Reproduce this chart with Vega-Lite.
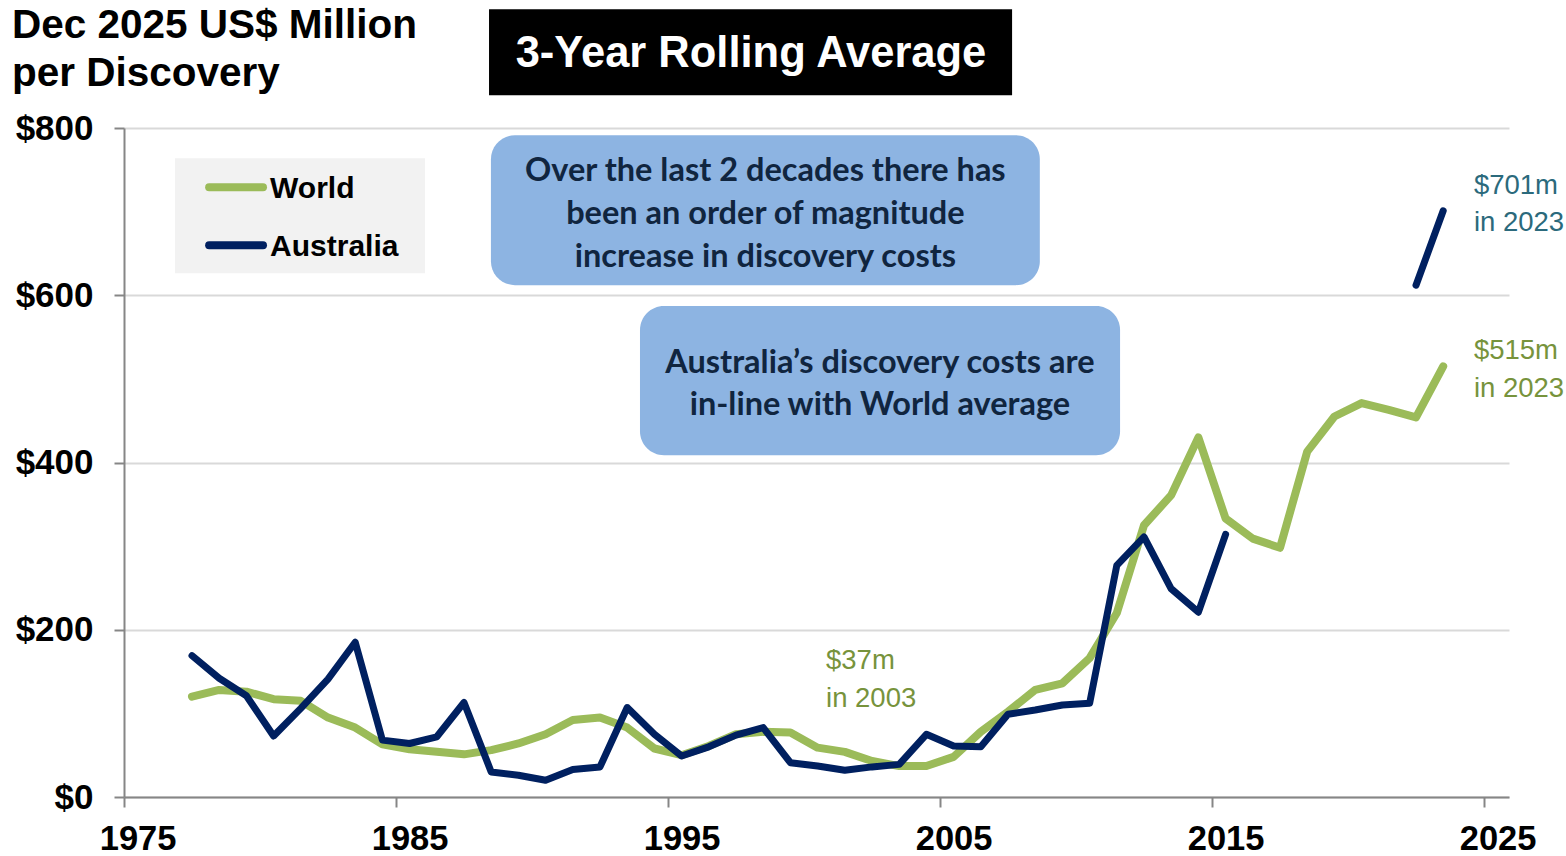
{
  "$schema": "https://vega.github.io/schema/vega-lite/v6.json",
  "width": 1385,
  "height": 669,
  "autosize": {"type": "none"},
  "padding": {"left": 124, "top": 128, "right": 57, "bottom": 59},
  "background": "white",
  "config": {"view": {"stroke": null}},
  "data": {
    "values": [
      {"year": 1977, "series": "World", "cost": 120}, {"year": 1978, "series": "World", "cost": 128}, {"year": 1979, "series": "World", "cost": 126}, {"year": 1980, "series": "World", "cost": 117}, {"year": 1981, "series": "World", "cost": 115}, {"year": 1982, "series": "World", "cost": 95}, {"year": 1983, "series": "World", "cost": 83}, {"year": 1984, "series": "World", "cost": 63}, {"year": 1985, "series": "World", "cost": 57}, {"year": 1986, "series": "World", "cost": 54}, {"year": 1987, "series": "World", "cost": 51}, {"year": 1988, "series": "World", "cost": 56}, {"year": 1989, "series": "World", "cost": 64}, {"year": 1990, "series": "World", "cost": 75}, {"year": 1991, "series": "World", "cost": 92}, {"year": 1992, "series": "World", "cost": 95}, {"year": 1993, "series": "World", "cost": 83}, {"year": 1994, "series": "World", "cost": 58}, {"year": 1995, "series": "World", "cost": 50}, {"year": 1996, "series": "World", "cost": 61}, {"year": 1997, "series": "World", "cost": 75}, {"year": 1998, "series": "World", "cost": 78}, {"year": 1999, "series": "World", "cost": 77}, {"year": 2000, "series": "World", "cost": 59}, {"year": 2001, "series": "World", "cost": 54}, {"year": 2002, "series": "World", "cost": 43}, {"year": 2003, "series": "World", "cost": 37}, {"year": 2004, "series": "World", "cost": 37}, {"year": 2005, "series": "World", "cost": 48}, {"year": 2006, "series": "World", "cost": 78}, {"year": 2007, "series": "World", "cost": 102}, {"year": 2008, "series": "World", "cost": 128}, {"year": 2009, "series": "World", "cost": 136}, {"year": 2010, "series": "World", "cost": 166}, {"year": 2011, "series": "World", "cost": 220}, {"year": 2012, "series": "World", "cost": 325}, {"year": 2013, "series": "World", "cost": 361}, {"year": 2014, "series": "World", "cost": 430}, {"year": 2015, "series": "World", "cost": 333}, {"year": 2016, "series": "World", "cost": 309}, {"year": 2017, "series": "World", "cost": 298}, {"year": 2018, "series": "World", "cost": 413}, {"year": 2019, "series": "World", "cost": 455}, {"year": 2020, "series": "World", "cost": 471}, {"year": 2021, "series": "World", "cost": 463}, {"year": 2022, "series": "World", "cost": 454}, {"year": 2023, "series": "World", "cost": 515},
      {"year": 1977, "series": "Australia", "cost": 169}, {"year": 1978, "series": "Australia", "cost": 142}, {"year": 1979, "series": "Australia", "cost": 121}, {"year": 1980, "series": "Australia", "cost": 73}, {"year": 1981, "series": "Australia", "cost": 106}, {"year": 1982, "series": "Australia", "cost": 141}, {"year": 1983, "series": "Australia", "cost": 185}, {"year": 1984, "series": "Australia", "cost": 68}, {"year": 1985, "series": "Australia", "cost": 64}, {"year": 1986, "series": "Australia", "cost": 72}, {"year": 1987, "series": "Australia", "cost": 113}, {"year": 1988, "series": "Australia", "cost": 30}, {"year": 1989, "series": "Australia", "cost": 26}, {"year": 1990, "series": "Australia", "cost": 20}, {"year": 1991, "series": "Australia", "cost": 33}, {"year": 1992, "series": "Australia", "cost": 36}, {"year": 1993, "series": "Australia", "cost": 107}, {"year": 1994, "series": "Australia", "cost": 75}, {"year": 1995, "series": "Australia", "cost": 49}, {"year": 1996, "series": "Australia", "cost": 60}, {"year": 1997, "series": "Australia", "cost": 74}, {"year": 1998, "series": "Australia", "cost": 83}, {"year": 1999, "series": "Australia", "cost": 41}, {"year": 2000, "series": "Australia", "cost": 37}, {"year": 2001, "series": "Australia", "cost": 32}, {"year": 2002, "series": "Australia", "cost": 36}, {"year": 2003, "series": "Australia", "cost": 39}, {"year": 2004, "series": "Australia", "cost": 75}, {"year": 2005, "series": "Australia", "cost": 61}, {"year": 2006, "series": "Australia", "cost": 60}, {"year": 2007, "series": "Australia", "cost": 99}, {"year": 2008, "series": "Australia", "cost": 104}, {"year": 2009, "series": "Australia", "cost": 110}, {"year": 2010, "series": "Australia", "cost": 112}, {"year": 2011, "series": "Australia", "cost": 277}, {"year": 2012, "series": "Australia", "cost": 311}, {"year": 2013, "series": "Australia", "cost": 249}, {"year": 2014, "series": "Australia", "cost": 221}, {"year": 2015, "series": "Australia", "cost": 314}, {"year": 2016, "series": "Australia", "cost": null}, {"year": 2017, "series": "Australia", "cost": null}, {"year": 2018, "series": "Australia", "cost": null}, {"year": 2019, "series": "Australia", "cost": null}, {"year": 2020, "series": "Australia", "cost": null}, {"year": 2021, "series": "Australia", "cost": null}, {"year": 2022, "series": "Australia", "cost": 612}, {"year": 2023, "series": "Australia", "cost": 701}
    ]
  },
  "layer": [
    {
      "transform": [{"filter": "datum.series === 'World'"}],
      "mark": {"type": "line", "stroke": "#9BBB59", "strokeWidth": 8, "strokeCap": "round", "strokeJoin": "round", "clip": false},
      "encoding": {
        "x": {
          "field": "year", "type": "quantitative",
          "scale": {"domain": [1974.5, 2025.419], "nice": false, "zero": false},
          "axis": {
            "title": null, "values": [1975, 1985, 1995, 2005, 2015, 2025], "format": "d",
            "grid": false, "domainColor": "#868686", "domainWidth": 2,
            "tickColor": "#868686", "tickWidth": 2, "tickSize": 10,
            "tickOffset": -13.6, "labelOffset": 13.6,
            "labelFont": "Liberation Sans", "labelFontWeight": "bold", "labelFontSize": 34.5,
            "labelColor": "#000000", "labelPadding": 15, "labelFlush": false, "labelOverlap": false
          }
        },
        "y": {
          "field": "cost", "type": "quantitative",
          "scale": {"domain": [0, 800], "nice": false},
          "axis": {
            "title": null, "values": [0, 200, 400, 600, 800], "labelExpr": "'$' + datum.value",
            "grid": true, "gridColor": "#D9D9D9", "gridWidth": 2,
            "domainColor": "#868686", "domainWidth": 2,
            "tickColor": "#868686", "tickWidth": 2, "tickSize": 10,
            "labelFont": "Liberation Sans", "labelFontWeight": "bold", "labelFontSize": 35,
            "labelColor": "#000000", "labelPadding": 21, "labelFlush": false, "labelOverlap": false
          }
        }
      }
    },
    {
      "transform": [{"filter": "datum.series === 'Australia'"}],
      "mark": {"type": "line", "stroke": "#002060", "strokeWidth": 7, "strokeCap": "round", "strokeJoin": "round", "clip": false, "invalid": "break-paths-show-domains"},
      "encoding": {
        "x": {"field": "year", "type": "quantitative"},
        "y": {"field": "cost", "type": "quantitative"}
      }
    },
    {
      "data": {"values": [{}]},
      "mark": {"type": "rect", "fill": "#8DB4E2", "cornerRadius": 24},
      "encoding": {
        "x": {"datum": 1987.99, "type": "quantitative"}, "x2": {"datum": 2008.17},
        "y": {"datum": 791.4, "type": "quantitative"}, "y2": {"datum": 612.1}
      }
    },
    {
      "data": {"values": [{}]},
      "mark": {"type": "rect", "fill": "#8DB4E2", "cornerRadius": 24},
      "encoding": {
        "x": {"datum": 1993.47, "type": "quantitative"}, "x2": {"datum": 2011.12},
        "y": {"datum": 587.0, "type": "quantitative"}, "y2": {"datum": 408.8}
      }
    },
    {
      "data": {"values": [{}]},
      "mark": {"type": "text", "text": ["Over the last 2 decades there has", "been  an order of magnitude", "increase in discovery costs"], "font": "Lato", "fontWeight": "bold", "fontSize": 32.5, "lineHeight": 43, "color": "#10253F", "align": "center", "baseline": "middle"},
      "encoding": {
        "x": {"datum": 1998.08, "type": "quantitative"},
        "y": {"datum": 749.0, "type": "quantitative"}
      }
    },
    {
      "data": {"values": [{}]},
      "mark": {"type": "text", "text": ["Australia\u2019s discovery costs are", "in-line with World  average"], "font": "Lato", "fontWeight": "bold", "fontSize": 32.5, "lineHeight": 42, "color": "#10253F", "align": "center", "baseline": "middle"},
      "encoding": {
        "x": {"datum": 2002.29, "type": "quantitative"},
        "y": {"datum": 519.0, "type": "quantitative"}
      }
    },
    {
      "data": {"values": [{}]},
      "mark": {"type": "rect", "fill": "#000000"},
      "encoding": {
        "x": {"datum": 1987.92, "type": "quantitative"}, "x2": {"datum": 2007.15},
        "y": {"datum": 942.0, "type": "quantitative"}, "y2": {"datum": 839.2}
      }
    },
    {
      "data": {"values": [{}]},
      "mark": {"type": "text", "text": "3-Year Rolling Average", "font": "Liberation Sans", "fontWeight": "bold", "fontSize": 43.5, "color": "#FFFFFF", "align": "center", "baseline": "alphabetic"},
      "encoding": {
        "x": {"datum": 1997.55, "type": "quantitative"},
        "y": {"datum": 873.5, "type": "quantitative"}
      }
    },
    {
      "data": {"values": [{}]},
      "mark": {"type": "text", "text": ["Dec 2025 US$ Million", "per Discovery"], "font": "Liberation Sans", "fontWeight": "bold", "fontSize": 40.5, "lineHeight": 48, "color": "#000000", "align": "left", "baseline": "alphabetic"},
      "encoding": {
        "x": {"datum": 1970.38, "type": "quantitative"},
        "y": {"datum": 907.4, "type": "quantitative"}
      }
    },
    {
      "data": {"values": [{}]},
      "mark": {"type": "rect", "fill": "#F2F2F2"},
      "encoding": {
        "x": {"datum": 1976.375, "type": "quantitative"}, "x2": {"datum": 1985.566},
        "y": {"datum": 763.9, "type": "quantitative"}, "y2": {"datum": 626.4}
      }
    },
    {
      "data": {"values": [{}]},
      "mark": {"type": "rule", "stroke": "#9BBB59", "strokeWidth": 8, "strokeCap": "round"},
      "encoding": {
        "x": {"datum": 1977.63, "type": "quantitative"}, "x2": {"datum": 1979.61},
        "y": {"datum": 729.2, "type": "quantitative"}
      }
    },
    {
      "data": {"values": [{}]},
      "mark": {"type": "rule", "stroke": "#002060", "strokeWidth": 8, "strokeCap": "round"},
      "encoding": {
        "x": {"datum": 1977.63, "type": "quantitative"}, "x2": {"datum": 1979.61},
        "y": {"datum": 659.9, "type": "quantitative"}
      }
    },
    {
      "data": {"values": [{}]},
      "mark": {"type": "text", "text": "World", "font": "Liberation Sans", "fontWeight": "bold", "fontSize": 30, "color": "#000000", "align": "left", "baseline": "alphabetic"},
      "encoding": {
        "x": {"datum": 1979.87, "type": "quantitative"},
        "y": {"datum": 716.1, "type": "quantitative"}
      }
    },
    {
      "data": {"values": [{}]},
      "mark": {"type": "text", "text": "Australia", "font": "Liberation Sans", "fontWeight": "bold", "fontSize": 30, "color": "#000000", "align": "left", "baseline": "alphabetic"},
      "encoding": {
        "x": {"datum": 1979.87, "type": "quantitative"},
        "y": {"datum": 646.7, "type": "quantitative"}
      }
    },
    {
      "data": {"values": [{}]},
      "mark": {"type": "text", "text": ["$37m", "in 2003"], "font": "Liberation Sans", "fontSize": 27.5, "lineHeight": 38, "color": "#77933C", "align": "left", "baseline": "alphabetic"},
      "encoding": {
        "x": {"datum": 2000.31, "type": "quantitative"},
        "y": {"datum": 152.5, "type": "quantitative"}
      }
    },
    {
      "data": {"values": [{}]},
      "mark": {"type": "text", "text": ["$701m", "in 2023"], "font": "Liberation Sans", "fontSize": 27.5, "lineHeight": 37, "color": "#2B6A7C", "align": "left", "baseline": "alphabetic"},
      "encoding": {
        "x": {"datum": 2024.13, "type": "quantitative"},
        "y": {"datum": 720.5, "type": "quantitative"}
      }
    },
    {
      "data": {"values": [{}]},
      "mark": {"type": "text", "text": ["$515m", "in 2023"], "font": "Liberation Sans", "fontWeight": "normal", "fontSize": 27.5, "lineHeight": 38, "color": "#77933C", "align": "left", "baseline": "alphabetic"},
      "encoding": {
        "x": {"datum": 2024.13, "type": "quantitative"},
        "y": {"datum": 524.0, "type": "quantitative"}
      }
    }
  ]
}
